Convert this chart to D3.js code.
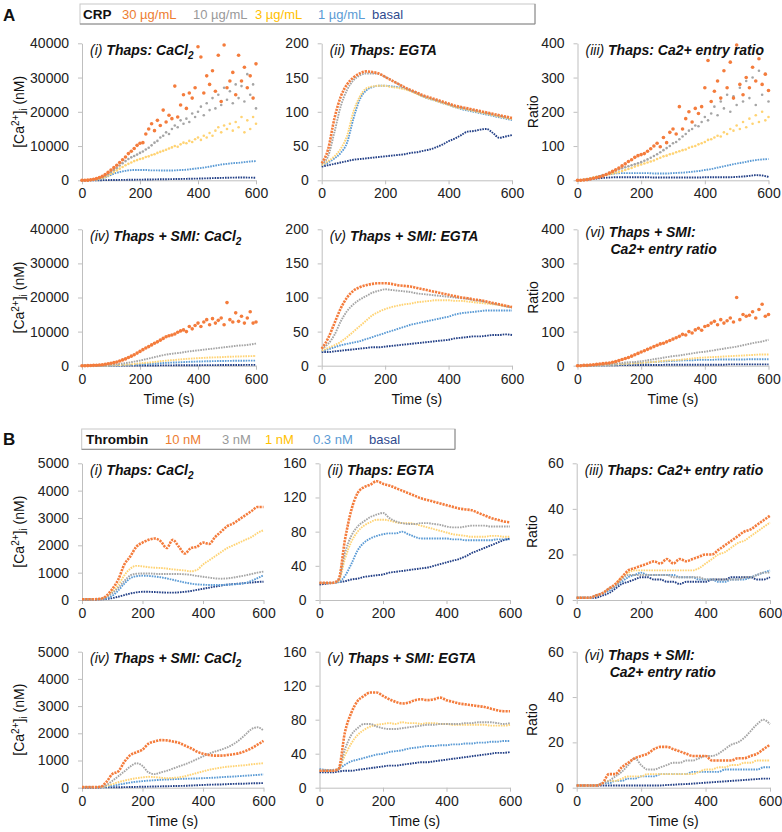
<!DOCTYPE html>
<html>
<head>
<meta charset="utf-8">
<script src="https://cdn.jsdelivr.net/npm/d3@7"></script>
<style>
  body { margin: 0; background: #fff; }
  svg { font-family: "Liberation Sans", Arial, sans-serif; }
  .axis path, .axis line { stroke: #BFBFBF; }
  .axis text { font-size: 14px; fill: #222; }
</style>
</head>
<body>
<div id="chart"></div>
<script>
// ---- data: time grids (s) ----
const t20 = [0,20,40,60,80,100,120,140,160,180,200,220,240,260,280,300,320,340,360,380,400,420,440,460,480,500,520,540,560,580,600];
const t10 = [0,10,20,30,40,50,60,70,80,90,100,110,120,130,140,150,160,170,180,190,200,210,220,230,240,250,260,270,280,290,300,
  310,320,330,340,350,360,370,380,390,400,410,420,430,440,450,460,470,480,490,500,510,520,530,540,550,560,570,580,590,600];

const crpLegend = ["30 µg/mL", "10 µg/mL", "3 µg/mL", "1 µg/mL", "basal"];
const thrombinLegend = ["10 nM", "3 nM", "1 nM", "0.3 nM", "basal"];
const timeTicks = [0, 200, 400, 600];

// each panel: series in legend order (highest dose ... basal)
const crpThapsCaCl2 = [
  [0,0,50,150,300,500,800,1200,1700,2300,3000,3700,4400,5200,6000,6800,7800,8500,9300,10200,
   10800,11000,13500,15000,16500,14500,17500,16000,20500,17000,19000,18000,27500,18500,22000,25000,21000,25500,24000,27000,
   39000,36000,25500,30500,28000,32000,26000,36500,23000,39500,27000,29000,31500,25000,36500,29000,33000,27000,30500,24000,34000],
  [0,0,30,100,200,350,600,900,1300,1800,2400,3000,3600,4300,5000,5600,6200,6700,7100,7500,
   8000,8400,9000,9500,10200,11000,11500,12500,13000,14000,13500,15000,16000,15500,17500,16500,18000,17000,19500,18500,
   20000,21500,19000,22500,20500,24000,21000,25000,22000,27000,23500,26000,22500,28000,24000,27500,23000,31000,25000,28000,21000],
  [0,0,20,80,150,250,450,700,1000,1400,1900,2400,2900,3400,3900,4400,4800,5200,5600,5900,
   6200,6400,6800,7000,7400,7600,8000,8300,8600,8900,9300,9600,10000,9800,10500,11000,10800,11500,11200,12000,
   12500,11800,13000,12500,13800,13000,14500,15500,14000,16000,15000,16500,14500,17000,15500,18500,14000,17500,15000,18500,16500],
  [0,0,100,300,800,1600,2200,2600,2900,3000,3000,3000,2900,2900,2850,2850,2900,3000,3100,3300,3500,3700,4000,4300,4600,4800,5000,5100,5300,5500,5600],
  [0,0,0,20,50,80,100,120,150,180,200,220,250,280,300,330,360,400,430,470,500,550,600,650,700,750,780,800,800,780,750]
];
const crpThapsEGTA = [
  [25,45,90,122,140,150,156,159,158,156,151,146,141,136,132,128,124,121,118,115,112,109,107,105,103,101,99,97,95,93,91],
  [24,35,70,108,132,146,153,156,156,155,151,146,141,136,131,127,123,120,117,114,111,108,106,104,102,100,98,96,94,92,90],
  [22,28,35,46,65,100,122,134,137,138,138,136,135,133,130,126,122,119,116,113,110,107,105,103,101,99,97,95,93,91,89],
  [22,26,32,40,55,90,118,131,136,138,138,137,136,134,131,127,122,119,116,113,110,107,104,102,100,98,96,94,92,90,88],
  [20,22,24,26,28,30,31,32,33,34,35,36,37,38,40,41,43,45,48,52,57,61,66,71,72,74,75,69,62,64,66]
];
const crpThapsRatio = [
  [0,0,1,2,4,6,8,10,13,17,21,26,31,36,42,48,55,60,67,72,75,78,85,92,100,108,98,125,110,140,
   150,135,215,150,180,200,170,210,195,215,270,350,230,260,290,240,320,270,345,240,395,280,250,300,270,330,290,355,280,310,262],
  [0,0,1,2,4,6,9,12,15,18,22,25,28,32,35,38,41,44,47,50,53,57,61,66,71,76,82,88,94,100,
   108,112,120,128,135,145,150,160,158,170,185,175,195,215,190,230,210,250,200,245,220,270,230,290,240,300,220,320,250,310,230],
  [0,0,2,4,6,8,10,12,14,16,18,20,22,24,27,30,33,36,40,43,46,49,52,55,58,62,66,70,72,76,
   78,82,85,88,90,95,98,100,105,108,112,118,120,125,130,128,140,135,150,145,160,150,170,155,180,165,190,170,200,175,185],
  [0,2,5,10,15,18,20,21,21,21,21,21,20,20,20,21,22,23,25,27,30,33,37,41,45,49,52,56,59,61,62],
  [0,1,3,5,7,8,9,9,9,9,9,9,8,8,8,8,8,8,8,8,9,9,9,9,9,10,11,13,15,14,10]
];
const crpSmiCaCl2 = [
  [0,0,30,60,100,150,220,300,420,550,700,900,1100,1400,1700,2000,2400,2800,3200,3700,
   4200,4700,5200,5600,6100,6600,7000,7500,8000,8500,8800,9000,9300,9800,10200,10500,10000,11500,10800,11800,
   12500,11500,12800,13500,12000,13800,12500,13300,14000,12000,18500,13500,12800,15500,13000,14500,12500,14000,15800,12500,12800],
  [0,0,20,60,150,300,450,650,900,1200,1500,1900,2300,2700,3100,3400,3600,3800,4100,4300,4500,4700,4900,5100,5300,5500,5700,5900,6000,6200,6500],
  [0,0,10,30,60,100,170,250,350,500,700,850,1000,1200,1400,1550,1700,1850,2000,2100,2200,2300,2400,2450,2500,2600,2650,2700,2750,2800,2850],
  [0,0,10,20,40,70,100,150,200,280,380,480,580,680,780,870,950,1020,1100,1160,1220,1270,1310,1350,1380,1410,1430,1450,1470,1480,1500],
  [0,0,5,8,12,18,22,30,38,45,52,60,68,78,88,98,110,118,128,140,150,158,170,178,190,198,210,218,228,238,245]
];
const crpSmiEGTA = [
  [25,40,62,84,100,110,115,118,120,121,121,120,118,117,116,114,112,110,108,106,104,102,100,99,97,96,94,92,90,88,86],
  [25,32,45,65,80,90,97,102,107,110,112,111,110,109,108,106,105,104,103,102,101,100,99,98,96,95,93,91,89,87,85],
  [22,26,30,35,42,50,58,66,74,79,83,86,88,90,91,93,94,95,96,96,96,95,95,94,93,92,91,90,89,87,86],
  [22,24,27,30,32,34,36,39,42,45,48,51,54,57,60,62,64,66,68,70,72,75,77,78,79,80,81,81,81,81,81],
  [20,20,21,22,23,24,25,26,27,27,28,29,30,31,32,33,34,35,36,37,38,40,41,42,43,43,44,45,45,46,45]
];
const crpSmiRatio = [
  [0,0,1,1,2,3,4,5,6,7,8,10,12,15,18,21,24,28,32,36,40,44,48,52,56,60,64,66,70,74,
   78,82,86,92,90,100,96,105,110,104,115,118,125,130,120,135,125,132,140,128,200,135,150,145,148,158,140,165,180,145,150],
  [0,0,1,2,3,4,6,8,10,11,13,16,19,22,25,28,30,33,36,39,41,44,47,50,53,56,60,64,68,71,76],
  [0,0,1,1,2,3,4,5,6,7,8,10,11,13,15,16,17,19,21,23,24,25,26,27,28,29,30,31,32,33,33],
  [0,0,0,1,1,2,3,4,5,7,8,9,11,12,13,14,15,16,16,17,17,17,18,18,18,18,18,19,19,19,19],
  [1,1,1,1,1,1,1,2,2,2,2,2,2,2,3,3,3,3,3,3,3,3,3,3,4,4,4,4,4,4,4]
];
const thrThapsCaCl2 = [
  [30,30,30,40,150,400,750,1300,1600,1950,2100,2200,2250,2150,1900,2200,1950,1700,1900,1950,2100,2050,2300,2500,2700,2800,2950,3100,3250,3400,3400],
  [30,30,30,40,100,250,450,700,900,960,970,970,960,950,950,950,950,940,920,880,850,820,790,780,790,820,860,900,950,1000,1040],
  [30,30,30,40,120,300,550,900,1150,1250,1230,1200,1180,1170,1150,1120,1100,1080,1050,1100,1300,1450,1600,1750,1900,2000,2100,2200,2300,2450,2550],
  [30,30,30,35,60,150,350,600,800,870,890,880,860,830,790,740,690,640,600,570,560,550,550,550,560,570,590,620,700,800,900],
  [20,20,20,25,40,70,120,180,240,280,300,300,290,280,270,270,280,300,330,370,410,450,490,530,560,580,600,620,640,660,670]
];
const thrThapsEGTA = [
  [20,20,20,24,70,105,125,132,135,139,136,134,131,128,125,122,119,117,115,113,111,109,107,106,105,102,99,96,94,92,91],
  [20,20,20,23,55,75,86,92,97,100,102,96,92,90,89,89,90,90,89,88,86,85,85,86,87,87,87,86,86,86,86],
  [20,20,20,22,48,68,80,87,91,94,94,93,91,90,90,89,87,85,83,81,79,77,76,75,74,74,74,75,75,74,74],
  [20,20,20,21,28,42,58,67,72,75,77,78,78,80,77,74,72,72,72,72,72,71,71,70,70,70,70,70,71,71,71],
  [18,19,20,21,22,24,25,27,28,29,30,32,33,34,35,36,37,38,40,42,44,46,48,51,55,58,61,64,67,70,72]
];
const thrThapsRatio = [
  [1,1,1,2,3,5,7,10,13,14,15,16,17,16,18,16,18,17,18,19,20,20,22,24,26,28,30,31,33,35,37],
  [1,1,1,2,3,5,6,9,11,11,11,11,11,11,11,10,10,10,10,10,9,9,9,9,9,9,10,10,11,12,12],
  [1,1,1,2,3,5,7,10,12,13,13,13,13,13,13,13,13,13,13,14,16,18,20,21,23,25,26,28,30,32,34],
  [1,1,1,2,3,4,6,8,10,11,12,11,11,11,11,11,10,10,10,9,9,9,8,8,9,9,9,10,11,12,13],
  [1,1,1,1,2,3,5,7,8,9,10,10,9,9,8,8,7,8,8,8,8,9,9,9,10,10,10,10,9,9,10]
];
const thrSmiCaCl2 = [
  [20,20,20,30,200,500,600,950,1200,1300,1400,1620,1700,1750,1740,1700,1650,1550,1450,1330,1250,1200,1180,1180,1200,1230,1270,1350,1450,1580,1720],
  [20,20,20,30,90,250,420,600,780,900,800,560,500,560,620,700,780,860,950,1050,1150,1250,1330,1400,1480,1600,1750,1950,2150,2220,2100],
  [20,20,20,25,60,130,200,260,310,350,380,400,390,370,350,360,380,420,480,540,600,660,700,740,770,790,810,830,860,880,900],
  [20,20,20,25,40,70,110,150,190,220,240,260,275,290,300,310,320,330,335,340,350,360,370,385,400,410,425,440,455,470,490],
  [10,10,10,10,12,15,18,20,25,30,35,40,45,50,55,60,65,70,80,90,100,110,115,120,130,140,145,150,160,165,170]
];
const thrSmiEGTA = [
  [20,20,20,22,65,88,102,108,112,112,108,104,101,99,100,103,104,103,104,106,103,101,99,98,97,96,95,93,91,90,90],
  [20,20,20,22,45,62,70,75,75,72,70,69,69,70,71,72,73,74,74,75,75,75,75,76,76,77,77,77,76,75,76],
  [20,20,20,22,38,52,62,68,72,74,75,76,75,77,76,76,75,76,76,75,75,74,74,74,74,74,74,73,73,73,74],
  [22,21,21,22,27,31,33,35,37,39,40,42,43,44,46,47,48,49,49,50,50,51,51,52,52,53,53,54,54,55,55],
  [18,18,18,19,20,20,21,22,23,24,25,26,26,27,28,29,30,30,31,32,33,34,35,36,37,38,39,40,41,41,42]
];
const thrSmiRatio = [
  [1,1,1,1,2,6,6,9,11,13,14,15,17,18,18,17,16,15,14,14,14,12,12,12,12,13,13,14,15,17,19],
  [1,1,1,1,2,3,5,7,10,13,10,8,8,9,10,11,11,12,12,13,14,14,15,17,19,20,22,25,28,30,28],
  [1,1,1,1,2,3,3,4,5,5,5,6,6,6,6,6,6,6,6,7,8,8,9,9,10,10,11,11,12,12,12],
  [1,1,1,1,2,2,3,3,4,4,5,5,5,6,6,6,6,6,7,7,7,7,7,8,8,8,8,8,8,9,9],
  [1,1,1,1,1,1,1,1,1,1,1,1,1,1,1.2,1.3,1.5,1.6,1.8,2,2.2,2.4,2.6,2.8,3,3.2,3.4,3.6,3.8,4,4]
];

// ---- styling ----
const colors = ["#F47C3C", "#A5A5A5", "#FFD373", "#5B9BD5", "#223F86"];
const legendColors = ["#ED7D31", "#999999", "#FFC000", "#5B9BD5", "#2F4B8F"];

const svg = d3.select("#chart").append("svg")
  .attr("width", 782)
  .attr("height", 832);

// panel layout
const colsA = [[82, 256], [321.7, 512], [577.5, 768.5]];
const colsB = [[82, 263.5], [319.5, 510], [576.7, 770]];
const rowA1 = [43.3, 180.3], rowA2 = [229.3, 365.7], rowB1 = [463.3, 600], rowB2 = [651.7, 787.7];

const panels = [
  { data: crpThapsCaCl2, ymax: 40000, ticks: [0,10000,20000,30000,40000], col: colsA[0], row: rowA1, title: [["(i) ", "Thaps: CaCl", "2"]], ylab: "ca" },
  { data: crpThapsEGTA, ymax: 200, ticks: [0,50,100,150,200], col: colsA[1], row: rowA1, title: [["(ii) ", "Thaps: EGTA"]] },
  { data: crpThapsRatio, ymax: 400, ticks: [0,100,200,300,400], col: colsA[2], row: rowA1, title: [["(iii) ", "Thaps: Ca2+ entry ratio"]], ylab: "ratio" },
  { data: crpSmiCaCl2, ymax: 40000, ticks: [0,10000,20000,30000,40000], col: colsA[0], row: rowA2, title: [["(iv) ", "Thaps + SMI: CaCl", "2"]], ylab: "ca", xlab: true },
  { data: crpSmiEGTA, ymax: 200, ticks: [0,50,100,150,200], col: colsA[1], row: rowA2, title: [["(v) ", "Thaps + SMI: EGTA"]], xlab: true },
  { data: crpSmiRatio, ymax: 400, ticks: [0,100,200,300,400], col: colsA[2], row: rowA2, title: [["(vi) ", "Thaps + SMI:"], ["", "Ca2+ entry ratio"]], ylab: "ratio", xlab: true },
  { data: thrThapsCaCl2, ymax: 5000, ticks: [0,1000,2000,3000,4000,5000], col: colsB[0], row: rowB1, title: [["(i) ", "Thaps: CaCl", "2"]], ylab: "ca" },
  { data: thrThapsEGTA, ymax: 160, ticks: [0,40,80,120,160], col: colsB[1], row: rowB1, title: [["(ii) ", "Thaps: EGTA"]] },
  { data: thrThapsRatio, ymax: 60, ticks: [0,20,40,60], col: colsB[2], row: rowB1, title: [["(iii) ", "Thaps: Ca2+ entry ratio"]], ylab: "ratio" },
  { data: thrSmiCaCl2, ymax: 5000, ticks: [0,1000,2000,3000,4000,5000], col: colsB[0], row: rowB2, title: [["(iv) ", "Thaps + SMI: CaCl", "2"]], ylab: "ca", xlab: true },
  { data: thrSmiEGTA, ymax: 160, ticks: [0,40,80,120,160], col: colsB[1], row: rowB2, title: [["(v) ", "Thaps + SMI: EGTA"]], xlab: true },
  { data: thrSmiRatio, ymax: 60, ticks: [0,20,40,60], col: colsB[2], row: rowB2, title: [["(vi) ", "Thaps + SMI:"], ["", "Ca2+ entry ratio"]], ylab: "ratio", xlab: true }
];

function drawPanel(p) {
  const [x0, x1] = p.col, [y0, y1] = p.row;
  const x = d3.scaleLinear().domain([0, 600]).range([x0, x1]);
  const y = d3.scaleLinear().domain([0, p.ymax]).range([y1, y0]);
  const g = svg.append("g");

  g.append("g").attr("class", "axis")
    .attr("transform", `translate(0,${y1})`)
    .call(d3.axisBottom(x).tickValues(timeTicks).tickFormat(d3.format("d")).tickSize(4).tickSizeOuter(0).tickPadding(4));
  g.append("g").attr("class", "axis")
    .attr("transform", `translate(${x0},0)`)
    .call(d3.axisLeft(y).tickValues(p.ticks).tickFormat(d3.format("d")).tickSize(4).tickSizeOuter(0).tickPadding(9));

  // series, drawn basal first so the highest dose sits on top
  for (let i = p.data.length - 1; i >= 0; i--) {
    const vals = p.data[i];
    const times = vals.length === t10.length ? t10 : t20;
    const pts = vals.map((v, k) => [times[k], v]);
    if (vals.length === t10.length) {
      // scattered series: plain markers
      g.append("g").selectAll("circle")
        .data(pts)
        .join("circle")
        .attr("cx", d => x(d[0]))
        .attr("cy", d => y(d[1]))
        .attr("r", i === 0 ? 1.8 : 1.3)
        .attr("fill", colors[i]);
    } else {
      const line = d3.line().x(d => x(d[0])).y(d => y(d[1])).curve(d3.curveMonotoneX);
      g.append("path")
        .attr("d", line(pts))
        .attr("fill", "none")
        .attr("stroke", colors[i])
        .attr("stroke-width", i === 0 ? 2.6 : 1.9)
        .attr("stroke-dasharray", i === 0 ? "2.2,1" : "1.6,1");
    }
  }

  // panel title
  const twoLine = p.title.length > 1;
  p.title.forEach((ln, li) => {
    const tx = g.append("text")
      .attr("x", li === 0 ? x0 + 8 : x0 + 33)
      .attr("y", twoLine ? y0 + 8 + li * 17 : y0 + 11.5)
      .attr("font-size", 14)
      .attr("font-style", "italic")
      .attr("fill", "#111");
    if (ln[0]) tx.append("tspan").text(ln[0]);
    tx.append("tspan").attr("font-weight", "bold").text(ln[1]);
    if (ln[2]) tx.append("tspan").attr("font-weight", "bold").attr("font-size", 10).attr("dy", 4).text(ln[2]);
  });

  // y-axis title
  const cy = (y0 + y1) / 2;
  if (p.ylab === "ca") {
    const lab = g.append("text")
      .attr("transform", `translate(${x0 - 58},${cy}) rotate(-90)`)
      .attr("text-anchor", "middle")
      .attr("font-size", 14)
      .attr("fill", "#111");
    lab.append("tspan").text("[Ca");
    lab.append("tspan").attr("font-size", 10).attr("dy", -5).text("2+");
    lab.append("tspan").attr("dy", 5).text("]");
    lab.append("tspan").attr("font-size", 10).attr("dy", 3).text("i");
    lab.append("tspan").attr("dy", -3).text(" (nM)");
  } else if (p.ylab === "ratio") {
    g.append("text")
      .attr("transform", `translate(${x0 - 40},${cy}) rotate(-90)`)
      .attr("text-anchor", "middle")
      .attr("font-size", 14)
      .attr("fill", "#111")
      .text("Ratio");
  }
  if (p.xlab) {
    g.append("text")
      .attr("x", (x0 + x1) / 2)
      .attr("y", y1 + 38)
      .attr("text-anchor", "middle")
      .attr("font-size", 14)
      .attr("fill", "#111")
      .text("Time (s)");
  }
}

panels.forEach(drawPanel);

// section letters and legends
function drawLegend(letterY, box, title, labels, xs) {
  svg.append("text").attr("x", 3).attr("y", letterY)
    .attr("font-size", 17).attr("font-weight", "bold").attr("fill", "#111").text(title[0]);
  svg.append("rect")
    .attr("x", box[0]).attr("y", box[1]).attr("width", box[2] - box[0]).attr("height", box[3] - box[1])
    .attr("fill", "#fff").attr("stroke", "#C8C8C8");
  svg.append("line")
    .attr("x1", box[0]).attr("x2", box[2]).attr("y1", box[3]).attr("y2", box[3])
    .attr("stroke", "#8A8A8A");
  svg.append("line")
    .attr("x1", box[2]).attr("x2", box[2]).attr("y1", box[1]).attr("y2", box[3])
    .attr("stroke", "#8A8A8A");
  const ty = box[3] - 5;
  svg.append("text").attr("x", xs[0]).attr("y", ty)
    .attr("font-size", 13.5).attr("font-weight", "bold").attr("fill", "#111").text(title[1]);
  labels.forEach((l, i) => {
    svg.append("text").attr("x", xs[i + 1]).attr("y", ty)
      .attr("font-size", 13).attr("fill", legendColors[i]).text(l);
  });
}

drawLegend(21, [80, 4, 535, 24], ["A", "CRP"], crpLegend, [83, 122, 193, 255, 318, 372]);
drawLegend(445, [81.7, 429, 455, 449.3], ["B", "Thrombin"], thrombinLegend, [86, 165, 222, 265, 313, 369]);
</script>
</body>
</html>
